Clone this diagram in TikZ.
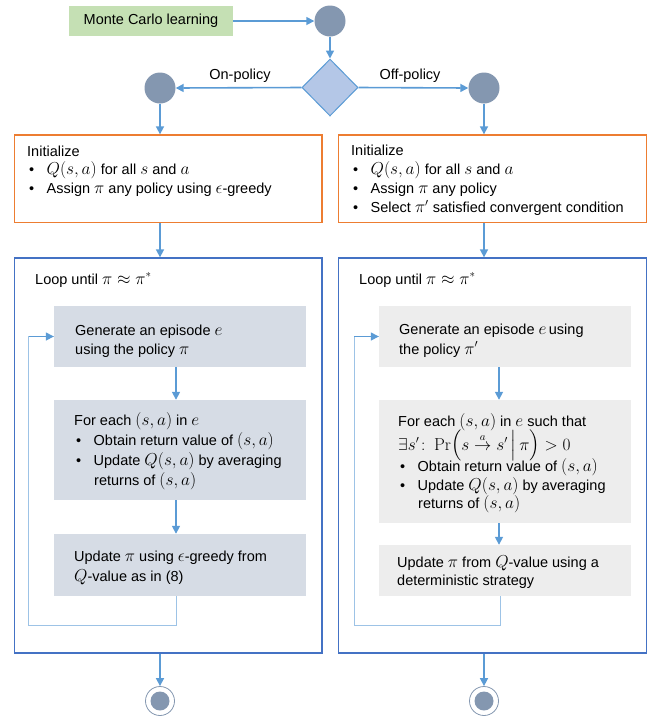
\documentclass[tikz,border=0pt]{standalone}
\usepackage{amsmath}
\usepackage[no-math]{fontspec}
\setmainfont{Liberation Sans}
\usetikzlibrary{arrows.meta,shapes.geometric,calc}
\DeclareMathSizes{14.5}{16}{11}{9}
\definecolor{mcgreen}{HTML}{C5E0B4}
\definecolor{circ}{HTML}{8497B0}
\definecolor{diafill}{HTML}{B4C7E7}
\definecolor{arrblue}{HTML}{5B9BD5}
\definecolor{orangeb}{HTML}{ED7D31}
\definecolor{loopb}{HTML}{4472C4}
\definecolor{grayL}{HTML}{D6DCE5}
\definecolor{grayR}{HTML}{EDEDED}
\definecolor{fbblue}{HTML}{9DC3E6}
\newcommand\bul{\hspace*{2pt}\makebox[17.5pt][l]{\textbullet}}
\begin{document}
\begin{tikzpicture}[x=1pt,y=-1pt,
  arr/.style={draw=arrblue, line width=1.6pt, -{Triangle[length=8pt,width=8pt]}},
  fb/.style={draw=fbblue, line width=1pt},
  txt/.style={anchor=base west, inner sep=0pt, font=\fontsize{14.5}{17}\selectfont},
  lbl/.style={anchor=base, inner sep=0pt, font=\fontsize{14.5}{17}\selectfont},
  dot/.style={circle, fill=circ, inner sep=0pt, minimum size=31pt},
  obox/.style={draw=orangeb, line width=1.3pt, minimum width=307.5pt, minimum height=87.5pt, inner sep=0pt},
  lbox/.style={draw=loopb, line width=1.3pt, minimum width=307.5pt, minimum height=395pt, inner sep=0pt},
  gboxL/.style={fill=grayL, minimum width=252pt, inner sep=0pt},
  gboxR/.style={fill=grayR, minimum width=252pt, inner sep=0pt}]
\useasboundingbox (0,0) rectangle (655,716);

% top
\node[fill=mcgreen, minimum width=164pt, minimum height=30pt, inner sep=0pt,
      font=\fontsize{14.5}{17}\selectfont] (mc) at (151,21) {Monte Carlo learning};
\node[dot] (c1) at (330,21) {};
\node[diamond, draw=arrblue, fill=diafill, line width=1pt, inner sep=0pt,
      minimum width=56pt, minimum height=57pt] (dia) at (330,87.5) {};
\node[dot] (cL) at (160,88) {};
\node[dot] (cR) at (484,88) {};
\node[lbl] (onp) at (240,79) {On-policy};
\node[lbl] (offp) at (410,79) {Off-policy};

\draw[arr] (mc.east) -- (c1.west);
\draw[arr] (c1.south) -- (dia.north);
\draw[arr] (dia.west) -- (cL.east);
\draw[arr] (dia.east) -- (cR.west);

% orange boxes
\node[obox] (o1) at (168.25,178.75) {};
\node[obox] (o2) at (492.5,178.75) {};
\draw[arr] (cL.south) -- (cL.south |- o1.north);
\draw[arr] (cR.south) -- (cR.south |- o2.north);

\node[txt] (o1a) at (27,156) {Initialize};
\node[txt] (o1b) at (27,174.5) {\bul $Q(s,a)$ for all $s$ and $a$};
\node[txt] (o1c) at (27,193) {\bul Assign $\pi$ any policy using $\epsilon$-greedy};

\node[txt] (o2a) at (351,155) {Initialize};
\node[txt] (o2b) at (351,174) {\bul $Q(s,a)$ for all $s$ and $a$};
\node[txt] (o2c) at (351,193.5) {\bul Assign $\pi$ any policy};
\node[txt] (o2d) at (351,212.5) {\bul Select $\pi'$ satisfied convergent condition};

% loop boxes
\node[lbox] (L1) at (168.25,455.5) {};
\node[lbox] (L2) at (492.5,455.5) {};
\draw[arr] (cL.south |- o1.south) -- (cL.south |- L1.north);
\draw[arr] (cR.south |- o2.south) -- (cR.south |- L2.north);

\node[txt] (l1t) at (35,284) {Loop until $\pi\approx\pi^*$};
\node[txt] (l2t) at (359,284) {Loop until $\pi\approx\pi^*$};

% left inner boxes
\node[gboxL, minimum height=61pt] (g1) at (180,336.5) {};
\node[gboxL, minimum height=100pt] (g2) at (180,450) {};
\node[gboxL, minimum height=62pt] (g3) at (180,565) {};
\draw[arr] ([xshift=-4pt]g1.south) -- ([xshift=-4pt]g2.north);
\draw[arr] ([xshift=-4pt]g2.south) -- ([xshift=-4pt]g3.north);

\node[txt] (g1a) at (75,335) {Generate an episode $e$};
\node[txt] (g1b) at (75,354.5) {using the policy $\pi$};
\node[txt] (g2a) at (74,425.5) {For each $(s,a)$ in $e$};
\node[txt] (g2b) at (74,445.5) {\bul Obtain return value of $(s,a)$};
\node[txt] (g2c) at (74,465) {\bul Update $Q(s,a)$ by averaging};
\node[txt] (g2d) at (94,485) {returns of $(s,a)$};
\node[txt] (g3a) at (74,561) {Update $\pi$ using $\epsilon$-greedy from};
\node[txt] (g3b) at (74,581) {$Q$-value as in (8)};

% right inner boxes
\node[gboxR, minimum height=61pt] (h1) at (505,336.5) {};
\node[gboxR, minimum height=123pt] (h2) at (505,461.5) {};
\node[gboxR, minimum height=51pt] (h3) at (505,570.5) {};
\draw[arr] ([xshift=-6pt]h1.south) -- ([xshift=-6pt]h2.north);
\draw[arr] ([xshift=-6pt]h2.south) -- ([xshift=-6pt]h3.north);

\node[txt] (h1a) at (399,334) {Generate an episode $e$\,using};
\node[txt] (h1b) at (399,354) {the policy $\pi'$};
\node[txt] (h2a) at (398,426) {For each $(s,a)$ in $e$ such that};
\node[txt] (h2b) at (398,450) {\smash[t]{$\exists s'\colon \Pr\Bigl(s\overset{\smash{a}}{\rightarrow}s'\,\Big|\,\pi\Bigr)>0$}};
\node[txt] (h2c) at (398,471.5) {\bul Obtain return value of $(s,a)$};
\node[txt] (h2d) at (398,490.5) {\bul Update $Q(s,a)$ by averaging};
\node[txt] (h2e) at (418,508.5) {returns of $(s,a)$};
\node[txt] (h3a) at (397,567) {Update $\pi$ from $Q$-value using a};
\node[txt] (h3b) at (397,585.5) {deterministic strategy};

% feedback loops
\coordinate (fbL) at (28.5,625);
\coordinate (fbR) at (354,625);
\draw[fb] ([xshift=-4pt]g3.south) |- (fbL) |- (g1.west);
\draw[arr] (fbL |- g1.west) -- (g1.west);
\draw[fb] ([xshift=-5pt]h3.south) |- (fbR) |- (h1.west);
\draw[arr] (fbR |- h1.west) -- (h1.west);

% end nodes
\node[circle, draw=circ, line width=0.8pt, inner sep=0pt, minimum size=29pt] (e1) at (160,701) {};
\node[circle, fill=circ, inner sep=0pt, minimum size=19pt] (e1i) at (e1) {};
\node[circle, draw=circ, line width=0.8pt, inner sep=0pt, minimum size=29pt] (e2) at (484,701) {};
\node[circle, fill=circ, inner sep=0pt, minimum size=19pt] (e2i) at (e2) {};
\draw[arr] (e1 |- L1.south) -- (e1.north);
\draw[arr] (e2 |- L2.south) -- (e2.north);
\end{tikzpicture}
\end{document}
